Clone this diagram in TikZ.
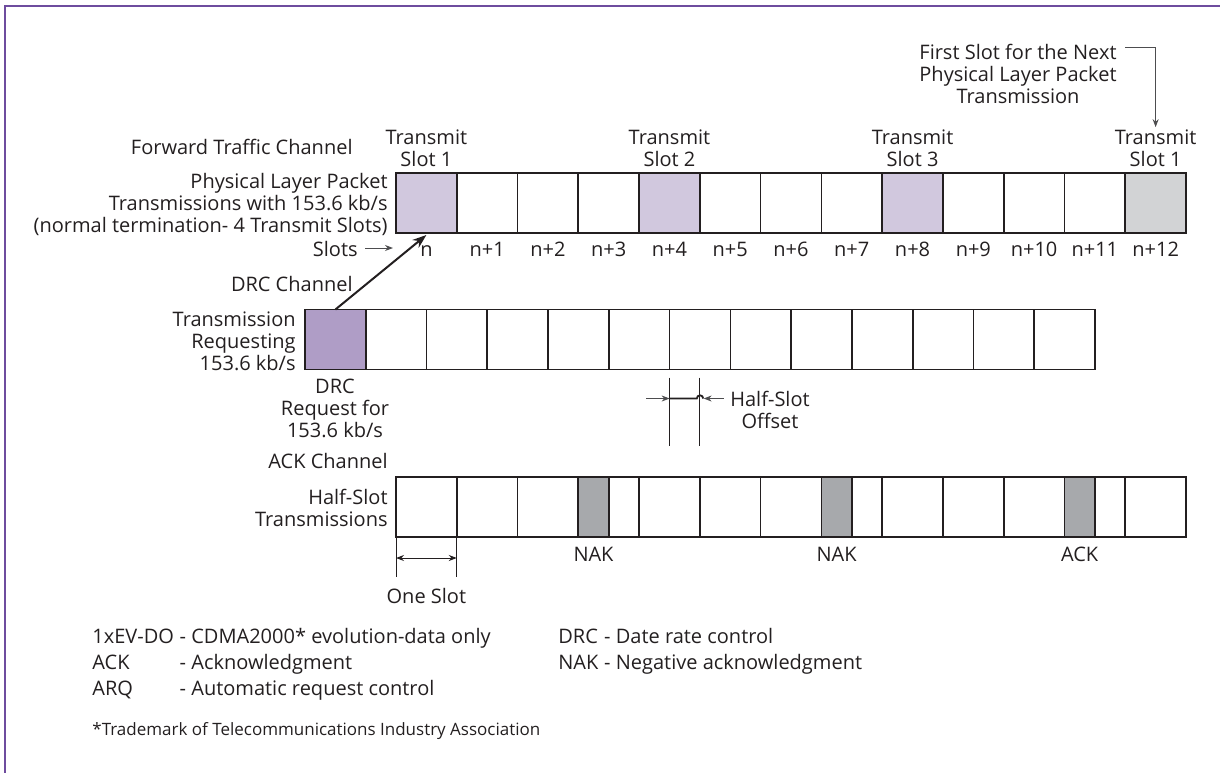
\documentclass[tikz,border=0pt]{standalone}
\usepackage{fontspec}
\setmainfont{Open Sans}
\usetikzlibrary{positioning,arrows.meta}

\definecolor{ink}{HTML}{231F20}
\definecolor{wire}{HTML}{4D4D4F}
\definecolor{frame}{HTML}{6E4C9E}
\definecolor{packet}{HTML}{D1C8DE}
\definecolor{nextpkt}{HTML}{D2D3D5}
\definecolor{drcfill}{HTML}{AF9DC6}
\definecolor{halfgray}{HTML}{A7A9AC}

\newcommand{\mainsize}{\fontsize{10}{11}\selectfont}
\newcommand{\notesize}{\fontsize{8.5}{10}\selectfont}

\tikzset{
  slotbox/.style={draw=ink, line width=0.85pt, fill=white,
    minimum width=30.385pt, minimum height=30pt, inner sep=0pt, outer sep=0pt},
  halfbox/.style={slotbox, minimum width=15.19pt, fill=halfgray},
  lbl/.style={inner sep=1pt, text height=1.5ex, text depth=0pt},
  txt/.style={inner sep=1pt, align=center},
  leg/.style={inner sep=0pt, anchor=base west},
  thinline/.style={draw=ink, line width=0.5pt},
  smallarrow/.style={draw=wire, line width=0.5pt, -{Stealth[length=4pt,width=3pt]}},
  bigarrow/.style={draw=ink, line width=1pt, -{Stealth[length=7pt,width=5pt]}},
}

\begin{document}
\begin{tikzpicture}[x=0.5pt, y=-0.5pt, font=\mainsize, text=ink]
  \useasboundingbox (0,0) rectangle (1220,772);
  \clip (0,0) rectangle (1220,772);
  \draw[frame, line width=1.3pt] (5,800) -- (5,6) -- (1240,6);

  % forward traffic channel
  \foreach \i/\c in {0/packet,1/white,2/white,3/white,4/packet,5/white,6/white,
      7/white,8/packet,9/white,10/white,11/white,12/nextpkt}
    \node[slotbox, fill=\c] (f\i) at ({396+(\i+0.5)*60.77},203) {};
  \foreach \i in {0,...,12}
    \node[lbl] (n\i) at ([yshift=-7.5pt]f\i.south) {\ifnum\i=0 n\else n+\i\fi};
  \foreach \i/\k in {0/1,4/2,8/3,12/1}
    \node[txt] (tx\i) at ([yshift=12.5pt]f\i.north) {Transmit\\Slot \k};

  \node[lbl, anchor=east] (fwd) at (355,146) {Forward Traffic Channel};
  \node[txt, align=right, anchor=east] (plp) at (390,204)
    {Physical Layer Packet\\Transmissions with 153.6 kb/s\\(normal termination- 4 Transmit Slots)};
  \node[lbl, anchor=east] (slots) at (360,248) {Slots};
  \coordinate (slotn) at (393,248);
  \draw[smallarrow] ([xshift=2.5pt]slots.east) -- (slotn);

  \node[txt] (nextpkt) at (1018,74) {First Slot for the Next\\Physical Layer Packet\\Transmission};
  \coordinate (callout) at (1125,47);
  \draw[smallarrow] (callout) -| (tx12.north);

  % DRC channel
  \foreach \i/\c in {0/drcfill,1/white,2/white,3/white,4/white,5/white,6/white,
      7/white,8/white,9/white,10/white,11/white,12/white}
    \node[slotbox, fill=\c] (d\i) at ({305+(\i+0.5)*60.77},339.5) {};
  \node[lbl, anchor=east] (drcch) at (355,283) {DRC Channel};
  \node[txt, align=right, anchor=east] (req) at (298,341) {Transmission\\Requesting\\153.6 kb/s};
  \node[txt] (drcreq) at (335,408) {DRC\\Request for\\153.6 kb/s};
  \draw[bigarrow] (d0.north) -- ([yshift=-1pt]f0.south);

  % half-slot offset between DRC and forward slots
  \draw[thinline] ([yshift=-4pt]d6.south west) -- ++(0,68);
  \draw[thinline] ([yshift=-4pt]f5.west |- d6.south) -- ++(0,68);
  \coordinate (hl) at ([yshift=-14.5pt]d6.south west);
  \draw[smallarrow] ([xshift=-11.8pt]hl) -- (hl);
  \draw[draw=ink, line width=0.9pt] (hl) -- ([xshift=13.6pt]hl)
    arc[start angle=180, end angle=0, radius=1.6pt];
  \draw[smallarrow] ([xshift=27pt]hl) -- ([xshift=17pt]hl);
  \node[txt] (offset) at (770,410) {Half-Slot\\Offset};

  % ACK channel
  \foreach \i in {0,...,12}
    \node[slotbox] (a\i) at ({396+(\i+0.5)*60.77},507) {};
  \foreach \i/\t in {3/NAK,7/NAK,11/ACK} {
    \node[halfbox, anchor=west] (h\i) at (a\i.west) {};
    \node[lbl] (ack\i) at ([yshift=-8pt]h\i.south) {\t};
  }
  \node[lbl, anchor=east] (ackch) at (390,460) {ACK Channel};
  \node[txt, align=right, anchor=east] (halftx) at (390,508) {Half-Slot\\Transmissions};

  % one slot marker
  \draw[thinline] (a0.south west) -- ++(0,40);
  \draw[thinline] (a0.south east) -- ++(0,40);
  \coordinate (os1) at ([yshift=-10.5pt]a0.south west);
  \coordinate (os2) at ([yshift=-10.5pt]a0.south east);
  \draw[thinline, {Stealth[length=4pt,width=3pt]}-{Stealth[length=4pt,width=3pt]}] (os1) -- (os2);
  \node[lbl] (oneslot) at ([yshift=-29pt]a0.south) {One Slot};

  % abbreviations
  \node[leg] (k1) at (92,643) {1xEV-DO};
  \node[leg] (v1) at ([xshift=2.5pt]k1.base east) {- CDMA2000* evolution-data only};
  \node[leg] (k2) at (92,669) {ACK};
  \node[leg] (v2) at (v1.base west |- k2.base) {- Acknowledgment};
  \node[leg] (k3) at (92,695) {ARQ};
  \node[leg] (v3) at (v1.base west |- k3.base) {- Automatic request control};
  \node[leg] (k5) at (558,669) {NAK};
  \node[leg] (v5) at ([xshift=2.5pt]k5.base east) {- Negative acknowledgment};
  \node[leg] (k4) at (558,643) {DRC};
  \node[leg] (v4) at (v5.base west |- k4.base) {- Date rate control};
  \node[leg, font=\notesize] (tm) at (92,735)
    {*Trademark of Telecommunications Industry Association};
\end{tikzpicture}
\end{document}
